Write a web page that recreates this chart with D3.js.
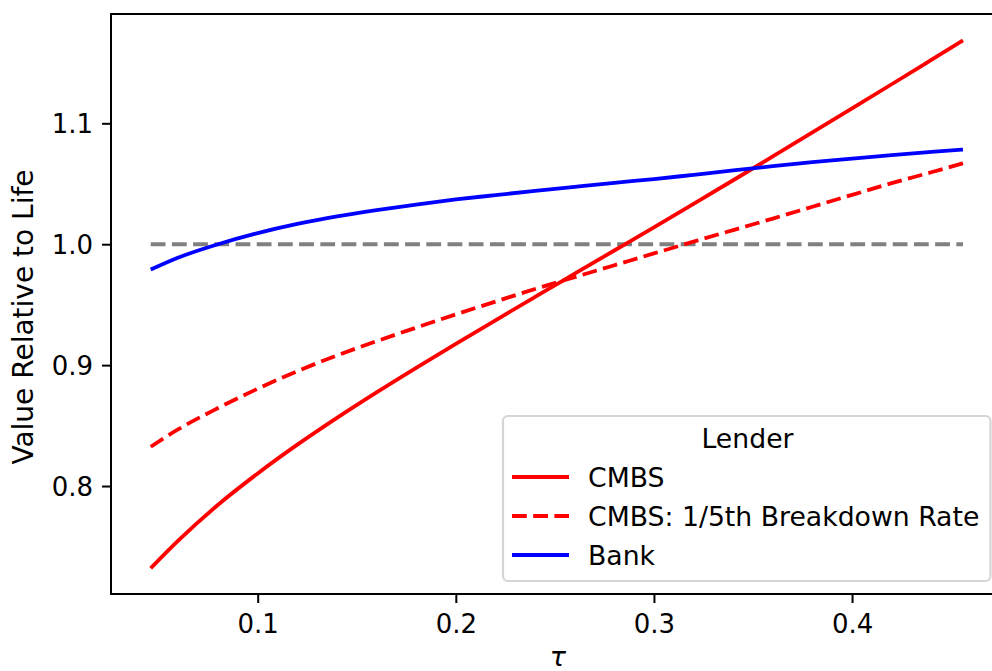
<!DOCTYPE html>
<html>
<head>
<meta charset="utf-8">
<script src="https://cdn.jsdelivr.net/npm/d3@7"></script>
<style>
  html, body { margin: 0; padding: 0; background: #ffffff; }
  svg { display: block; }
  text { font-family: "DejaVu Sans", sans-serif; fill: #000; }
</style>
</head>
<body>
<svg id="chart" width="992" height="671"></svg>
<script>
// ---- data ----
const tau = [0.046, 0.06, 0.08, 0.10, 0.12, 0.14, 0.16, 0.18, 0.20, 0.22, 0.24,
             0.26, 0.28, 0.30, 0.32, 0.34, 0.36, 0.38, 0.40, 0.42, 0.44, 0.456];
const cmbs = [0.7320, 0.7550, 0.7845, 0.8104, 0.8342, 0.8564, 0.8775, 0.8978, 0.9176,
              0.9371, 0.9564, 0.9756, 0.9948, 1.0140, 1.0334, 1.0529, 1.0726, 1.0924,
              1.1123, 1.1323, 1.1524, 1.1685];
const cmbsFifth = [0.8325, 0.8470, 0.8645, 0.8805, 0.8950, 0.9080, 0.9198, 0.9310, 0.9420,
                   0.9525, 0.9630, 0.9728, 0.9826, 0.9924, 1.0021, 1.0117, 1.0212, 1.0310,
                   1.0408, 1.0505, 1.0595, 1.0670];
const bank = [0.9790, 0.9890, 1.0000, 1.0092, 1.0168, 1.0230, 1.0282, 1.0328, 1.0370,
              1.0406, 1.0441, 1.0475, 1.0508, 1.0538, 1.0574, 1.0610, 1.0645, 1.0678,
              1.0708, 1.0737, 1.0763, 1.0783];
const refLevel = 1.0;
const xTicks = [0.1, 0.2, 0.3, 0.4];
const yTicks = [0.8, 0.9, 1.0, 1.1];
const seriesNames = ["CMBS", "CMBS: 1/5th Breakdown Rate", "Bank"];
const legendTitle = "Lender";
const xLabel = "τ";
const yLabel = "Value Relative to Life";

// ---- layout ----
const svg = d3.select("#chart");
const L = 111, R = 1005, T = 14, B = 594;
const FS_TICK = 26, FS_LEG = 26.7, FS_YLAB = 28, FS_XLAB = 27;

const x = d3.scaleLinear().domain([0.02595, 0.4772]).range([L, R]);
const y = d3.scaleLinear().domain([0.7107, 1.1904]).range([B, T]);

const series = [
  { name: seriesNames[0], values: cmbs, color: "#ff0000", dash: null },
  { name: seriesNames[1], values: cmbsFifth, color: "#ff0000", dash: "14.8,6.4" },
  { name: seriesNames[2], values: bank, color: "#0000ff", dash: null }
];

const line = d3.line()
  .x(d => x(d[0]))
  .y(d => y(d[1]))
  .curve(d3.curveMonotoneX);

const plot = svg.append("g");

// reference line at 1.0
plot.append("path")
  .attr("d", line([[tau[0], refLevel], [tau[tau.length - 1], refLevel]]))
  .attr("fill", "none")
  .attr("stroke", "#808080")
  .attr("stroke-width", 4)
  .attr("stroke-dasharray", "14.8,6.4");

series.forEach(s => {
  plot.append("path")
    .attr("d", line(tau.map((t, i) => [t, s.values[i]])))
    .attr("fill", "none")
    .attr("stroke", s.color)
    .attr("stroke-width", 3.8)
    .attr("stroke-dasharray", s.dash);
});

// axes
const xAxis = svg.append("g")
  .attr("transform", `translate(0,${B})`)
  .call(d3.axisBottom(x).tickValues(xTicks).tickFormat(d3.format(".1f"))
        .tickSize(9).tickPadding(11.5));
const yAxis = svg.append("g")
  .attr("transform", `translate(${L},0)`)
  .call(d3.axisLeft(y).tickValues(yTicks).tickFormat(d3.format(".1f"))
        .tickSize(9).tickPadding(9));

[xAxis, yAxis].forEach(g => {
  g.select(".domain").remove();
  g.selectAll(".tick line").attr("stroke", "#000").attr("stroke-width", 2);
  g.selectAll(".tick text").attr("font-size", FS_TICK).attr("font-family", "DejaVu Sans").attr("fill", "#000");
});
yAxis.selectAll(".tick text").attr("dy", "0.37em");

// spines (frame)
svg.append("rect")
  .attr("x", L).attr("y", T)
  .attr("width", R - L).attr("height", B - T)
  .attr("fill", "none").attr("stroke", "#000").attr("stroke-width", 2);

// axis labels
svg.append("text")
  .attr("x", (L + R) / 2).attr("y", 666)
  .attr("text-anchor", "middle")
  .attr("font-size", FS_XLAB)
  .attr("font-style", "italic")
  .text(xLabel);

svg.append("text")
  .attr("transform", `translate(33,317) rotate(-90)`)
  .attr("text-anchor", "middle")
  .attr("font-size", FS_YLAB)
  .text(yLabel);

// legend
const lg = svg.append("g");
lg.append("rect")
  .attr("x", 503).attr("y", 416)
  .attr("width", 487.5).attr("height", 165)
  .attr("rx", 5).attr("ry", 5)
  .attr("fill", "#ffffff").attr("fill-opacity", 0.8)
  .attr("stroke", "#d5d5d5").attr("stroke-width", 2.2);

lg.append("text")
  .attr("x", 747.5).attr("y", 447.5)
  .attr("text-anchor", "middle")
  .attr("font-size", FS_LEG)
  .text(legendTitle);

const rowBase = [486.5, 525.5, 564.5];
series.forEach((s, i) => {
  lg.append("line")
    .attr("x1", 512).attr("x2", 569)
    .attr("y1", rowBase[i] - 9.5).attr("y2", rowBase[i] - 9.5)
    .attr("stroke", s.color).attr("stroke-width", 3.8)
    .attr("stroke-dasharray", s.dash);
  lg.append("text")
    .attr("x", 588).attr("y", rowBase[i])
    .attr("font-size", FS_LEG)
    .text(s.name);
});
</script>
</body>
</html>
